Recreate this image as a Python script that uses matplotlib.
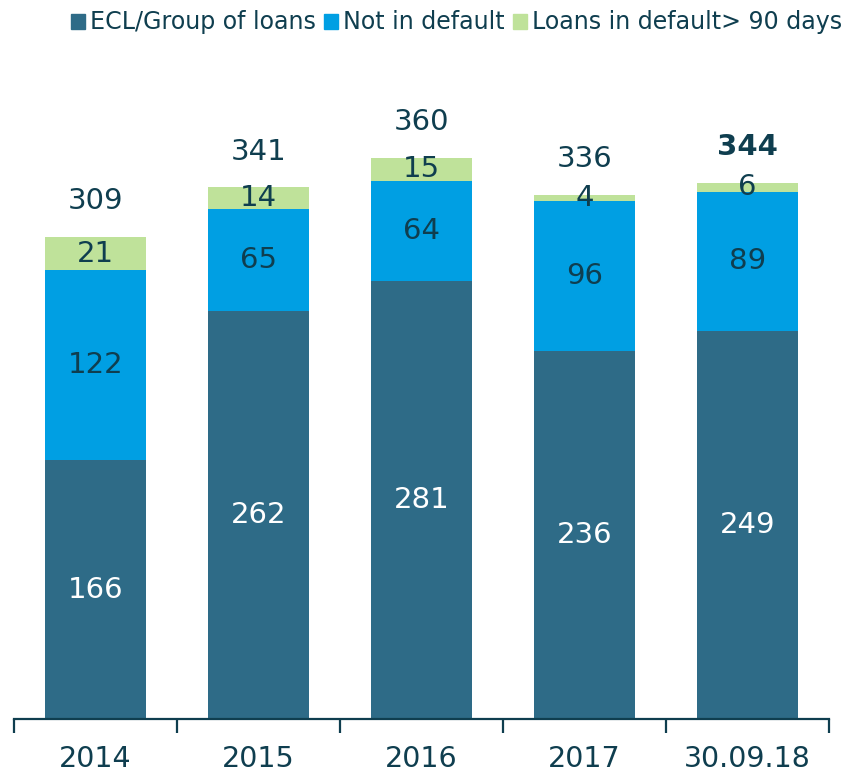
import numpy as np
import matplotlib
matplotlib.use("Agg")
import matplotlib.pyplot as plt
from matplotlib.patches import Patch

categories = ["2014", "2015", "2016", "2017", "30.09.18"]
ecl = [166, 262, 281, 236, 249]
not_default = [122, 65, 64, 96, 89]
in_default = [21, 14, 15, 4, 6]
totals = [309, 341, 360, 336, 344]

DARK, BLUE, GREEN, INK = "#2E6B87", "#009FE3", "#BFE29A", "#0F3E4F"
plt.rcParams.update({"font.family": "DejaVu Sans"})

fig = plt.figure(figsize=(8.53, 7.74), dpi=100)
ax = fig.add_axes([0.016, 0.071, 0.956, 0.846])
x = np.arange(len(categories))
w = 0.62
ax.bar(x, ecl, w, color=DARK, zorder=2)
ax.bar(x, not_default, w, bottom=ecl, color=BLUE, zorder=2)
base3 = np.array(ecl) + np.array(not_default)
ax.bar(x, in_default, w, bottom=base3, color=GREEN, zorder=2)

FS = 21
for i in x:
    ax.text(i, ecl[i] / 2, str(ecl[i]), ha="center", va="center", fontsize=FS, color="white")
    ax.text(i, ecl[i] + not_default[i] / 2, str(not_default[i]), ha="center", va="center",
            fontsize=FS, color=INK)
    ax.text(i, base3[i] + in_default[i] / 2, str(in_default[i]), ha="center", va="center",
            fontsize=FS, color=INK)
    ax.text(i, totals[i] + 14, str(totals[i]), ha="center", va="bottom", fontsize=FS, color=INK,
            fontweight="bold" if i == len(x) - 1 else "normal")

ax.set_xlim(-0.5, len(x) - 0.5)
ax.set_ylim(0, 420)
ax.set_yticks([])
for s in ["top", "right", "left"]:
    ax.spines[s].set_visible(False)
ax.spines["bottom"].set_color(INK)
ax.spines["bottom"].set_linewidth(1.6)
ax.set_xticks(np.arange(-0.5, len(x)), minor=False)
ax.set_xticklabels([])
ax.tick_params(axis="x", length=10, width=1.6, color=INK, direction="out")
ax.set_xticks(x, minor=True)
ax.set_xticklabels(categories, minor=True)
ax.tick_params(axis="x", which="minor", length=0, pad=19, labelsize=20.5, labelcolor=INK)

handles = [Patch(color=DARK, label="ECL/Group of loans"),
           Patch(color=BLUE, label="Not in default"),
           Patch(color=GREEN, label="Loans in default> 90 days")]
fig.legend(handles=handles, loc="center", bbox_to_anchor=(0.535, 0.971), ncol=3, frameon=False,
           fontsize=17.1, handlelength=0.6, handleheight=0.6, handletextpad=0.2,
           columnspacing=0.35, labelcolor=INK)

fig.savefig("out.png", dpi=100, facecolor="white")
